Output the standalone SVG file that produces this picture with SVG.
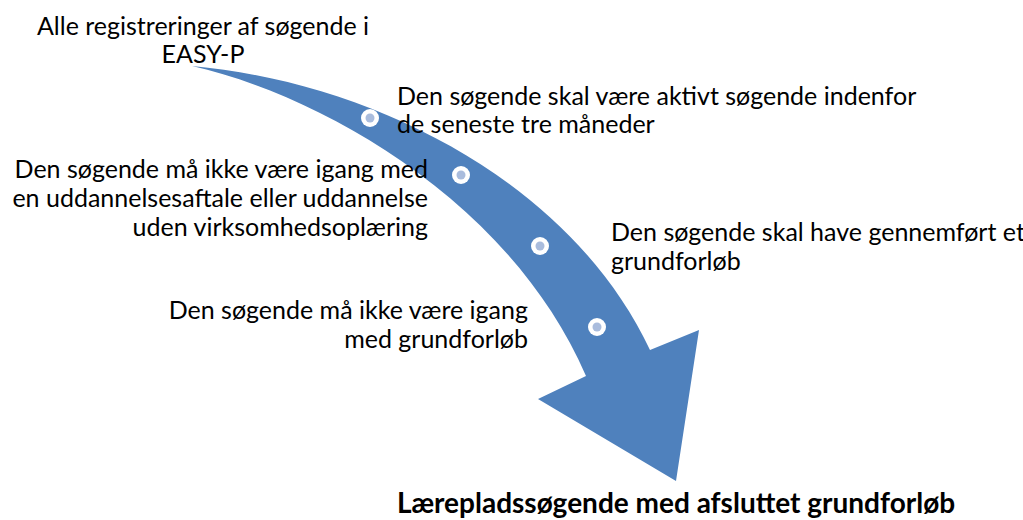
<svg xmlns="http://www.w3.org/2000/svg" width="1023" height="520" viewBox="0 0 1023 520">
<style>
.t{font-family:Lato,"Open Sans","Liberation Sans",sans-serif;font-size:25px;fill:#000}
.b{font-family:Lato,"Open Sans","Liberation Sans",sans-serif;font-size:28px;font-weight:bold;fill:#000}
.ring{fill:#fff}
.core{fill:#A9BCDD}
</style>
<rect width="1023" height="520" fill="#fff"/>
<g id="connectors">
<path id="arrow" d="M192,66 C370,82 570,180 650,350 L699,330 L676,481 L538,399 L586,376 C510,200 320,95 192,66 Z" fill="#4F81BD"/>
</g>
<g id="dot1"><circle class="ring" cx="370" cy="118" r="9"/><circle class="core" cx="370" cy="118" r="4.5"/></g>
<g id="dot2"><circle class="ring" cx="461" cy="175" r="9"/><circle class="core" cx="461" cy="175" r="4.5"/></g>
<g id="dot3"><circle class="ring" cx="540" cy="246" r="9"/><circle class="core" cx="540" cy="246" r="4.5"/></g>
<g id="dot4"><circle class="ring" cx="597" cy="327" r="9"/><circle class="core" cx="597" cy="327" r="4.5"/></g>
<g id="start">
<text class="t" x="203" y="35" text-anchor="middle">Alle registreringer af søgende i</text>
<text class="t" x="203" y="63" text-anchor="middle">EASY-P</text>
</g>
<g id="step1">
<text class="t" x="397" y="105">Den søgende skal være aktivt søgende indenfor</text>
<text class="t" x="397" y="133">de seneste tre måneder</text>
</g>
<g id="step2">
<text class="t" x="428" y="178" text-anchor="end">Den søgende må ikke være igang med</text>
<text class="t" x="428" y="207" text-anchor="end">en uddannelsesaftale eller uddannelse</text>
<text class="t" x="428" y="236" text-anchor="end">uden virksomhedsoplæring</text>
</g>
<g id="step3">
<text class="t" x="611" y="241">Den søgende skal have gennemført et</text>
<text class="t" x="611" y="270">grundforløb</text>
</g>
<g id="step4">
<text class="t" x="528" y="319" text-anchor="end">Den søgende må ikke være igang</text>
<text class="t" x="528" y="348" text-anchor="end">med grundforløb</text>
</g>
<g id="result">
<text class="b" x="676" y="513" text-anchor="middle">Lærepladssøgende med afsluttet grundforløb</text>
</g>
</svg>
